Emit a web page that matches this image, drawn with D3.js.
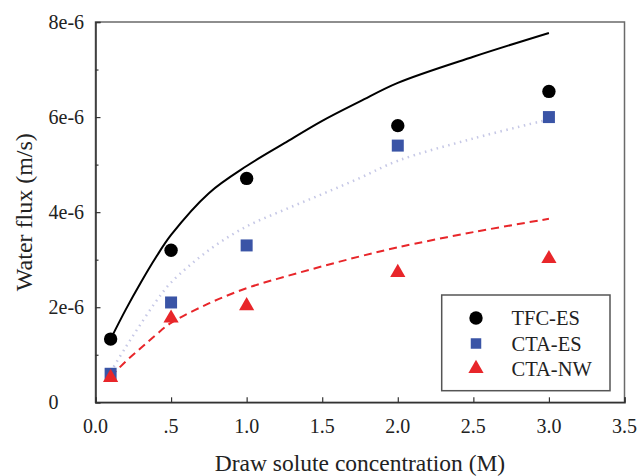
<!DOCTYPE html>
<html>
<head>
<meta charset="utf-8">
<script src="https://cdn.jsdelivr.net/npm/d3@7"></script>
<style>
  html, body { margin: 0; padding: 0; background: #fff; }
  svg { display: block; }
  svg text { font-family: "Liberation Serif", "Times New Roman", Times, serif; }
</style>
</head>
<body>
<svg id="chart" width="639" height="476"></svg>
<script>
// ---- data ----
const concentrations = [0.1, 0.5, 1.0, 2.0, 3.0];
const tfcES = [1.33e-6, 3.2e-6, 4.71e-6, 5.82e-6, 6.54e-6];
const ctaES = [0.6e-6, 2.1e-6, 3.3e-6, 5.4e-6, 6.0e-6];
const ctaNW = [0.52e-6, 1.77e-6, 2.03e-6, 2.73e-6, 3.02e-6];

const modelConc = [0.1, 0.2, 0.3, 0.4, 0.5, 0.75, 1.0, 1.25, 1.5, 1.75, 2.0, 2.5, 3.0];
const tfcModel = [1.33e-6, 1.95e-6, 2.52e-6, 3.05e-6, 3.52e-6, 4.4e-6, 4.97e-6, 5.45e-6, 5.92e-6, 6.33e-6, 6.72e-6, 7.27e-6, 7.77e-6];
const ctaESModel = [0.64e-6, 1.16e-6, 1.65e-6, 2.12e-6, 2.52e-6, 3.2e-6, 3.7e-6, 4.05e-6, 4.38e-6, 4.72e-6, 5.08e-6, 5.55e-6, 5.95e-6];
const ctaNWModel = [0.54e-6, 0.86e-6, 1.14e-6, 1.42e-6, 1.67e-6, 2.08e-6, 2.40e-6, 2.64e-6, 2.86e-6, 3.07e-6, 3.26e-6, 3.58e-6, 3.86e-6];

const xTicks = [0, 0.5, 1.0, 1.5, 2.0, 2.5, 3.0, 3.5];
const xTickLabels = ["0.0", ".5", "1.0", "1.5", "2.0", "2.5", "3.0", "3.5"];
const yTicks = [0, 2e-6, 4e-6, 6e-6, 8e-6];
const yTickLabels = ["0", "2e-6", "4e-6", "6e-6", "8e-6"];
const yMinorTicks = [1e-6, 3e-6, 5e-6, 7e-6];
const seriesNames = ["TFC-ES", "CTA-ES", "CTA-NW"];

// ---- layout ----
const FONT = "'Liberation Serif', 'Times New Roman', Times, serif";
const svg = d3.select("#chart");
const L = 95.5, R = 624.5, T = 22, B = 402.3;
const x = d3.scaleLinear().domain([0, 3.5]).range([L, R]);
const y = d3.scaleLinear().domain([0, 8e-6]).range([B, T]);

const black = "#000", blue = "#3a54a6", red = "#e8262a";

// frame
svg.append("rect").attr("x", L).attr("y", T).attr("width", R - L).attr("height", B - T)
  .attr("fill", "none").attr("stroke", "#6a6a6a").attr("stroke-width", 1.5);

// axes (ticks inward)
const xAxis = d3.axisBottom(x).tickValues(xTicks).tickSize(-5).tickFormat("");
const gx = svg.append("g").attr("transform", `translate(0,${B})`).call(xAxis);
gx.select(".domain").attr("stroke", "#333").attr("stroke-width", 1.5);
gx.selectAll(".tick line").attr("stroke", "#333").attr("stroke-width", 1.2);

const yAxis = d3.axisLeft(y).tickValues(yTicks).tickSize(-5).tickFormat("");
const gy = svg.append("g").attr("transform", `translate(${L},0)`).call(yAxis);
gy.select(".domain").attr("stroke", "#333").attr("stroke-width", 1.5);
gy.selectAll(".tick line").attr("stroke", "#333").attr("stroke-width", 1.2);

const yMinor = d3.axisLeft(y).tickValues(yMinorTicks).tickSize(-3).tickFormat("");
const gym = svg.append("g").attr("transform", `translate(${L},0)`).call(yMinor);
gym.select(".domain").remove();
gym.selectAll(".tick line").attr("stroke", "#333").attr("stroke-width", 1.2);

// tick labels
svg.append("g").selectAll("text").data(xTicks).join("text")
  .attr("x", d => x(d)).attr("y", 433).attr("text-anchor", "middle")
  .attr("font-family", FONT).attr("font-size", 20).attr("fill", "#222")
  .text((d, i) => xTickLabels[i]);

svg.append("g").selectAll("text").data(yTicks).join("text")
  .attr("x", 48.5).attr("y", d => y(d)).attr("dy", "0.35em").attr("text-anchor", "start")
  .attr("font-family", FONT).attr("font-size", 20).attr("fill", "#222")
  .text((d, i) => yTickLabels[i]);

// axis titles
svg.append("text").attr("x", (L + R) / 2).attr("y", 471).attr("text-anchor", "middle")
  .attr("font-family", FONT).attr("font-size", 23.5).attr("fill", "#222").text("Draw solute concentration (M)");
svg.append("text").attr("transform", `translate(32,${(T + B) / 2}) rotate(-90)`)
  .attr("text-anchor", "middle").attr("font-family", FONT).attr("font-size", 24).attr("fill", "#222")
  .text("Water flux (m/s)");

// model curves
const line = d3.line().x(d => x(d[0])).y(d => y(d[1])).curve(d3.curveCatmullRom.alpha(0.5));
svg.append("path").datum(modelConc.map((c, i) => [c, ctaESModel[i]]))
  .attr("d", line).attr("fill", "none").attr("stroke", "#c6c8e6").attr("stroke-width", 2.5)
  .attr("stroke-dasharray", "1.5,4.5");
svg.append("path").datum(modelConc.map((c, i) => [c, ctaNWModel[i]]))
  .attr("d", line).attr("fill", "none").attr("stroke", red).attr("stroke-width", 2)
  .attr("stroke-dasharray", "8,5");
svg.append("path").datum(modelConc.map((c, i) => [c, tfcModel[i]]))
  .attr("d", line).attr("fill", "none").attr("stroke", black).attr("stroke-width", 2);

// markers
const symCircle = d3.symbol().type(d3.symbolCircle).size(Math.PI * 6.7 * 6.7);
const symSquare = d3.symbol().type(d3.symbolSquare).size(12 * 12);
const symTri = d3.symbol().type(d3.symbolTriangle).size(100);

svg.append("g").selectAll("path").data(concentrations).join("path")
  .attr("transform", (d, i) => `translate(${x(d)},${y(tfcES[i])})`)
  .attr("d", symCircle).attr("fill", black);
svg.append("g").selectAll("path").data(concentrations).join("path")
  .attr("transform", (d, i) => `translate(${x(d)},${y(ctaES[i])})`)
  .attr("d", symSquare).attr("fill", blue);
svg.append("g").selectAll("path").data(concentrations).join("path")
  .attr("transform", (d, i) => `translate(${x(d)},${y(ctaNW[i])})`)
  .attr("d", symTri).attr("fill", red);

// legend
const lg = svg.append("g");
lg.append("rect").attr("x", 441.7).attr("y", 295).attr("width", 168.3).attr("height", 95.7)
  .attr("fill", "#fff").attr("stroke", "#555").attr("stroke-width", 1.5);
const legSyms = [symCircle, d3.symbol().type(d3.symbolSquare).size(10.5 * 10.5), symTri];
const legColors = [black, blue, red];
const rowsY = [318, 343.5, 368.5];
seriesNames.forEach((name, i) => {
  lg.append("path").attr("transform", `translate(476,${rowsY[i]})`)
    .attr("d", legSyms[i]).attr("fill", legColors[i]);
  lg.append("text").attr("x", 511.5).attr("y", rowsY[i]).attr("dy", "0.35em")
    .attr("font-family", FONT).attr("font-size", 20.5).attr("fill", "#222").text(name);
});
</script>
</body>
</html>
